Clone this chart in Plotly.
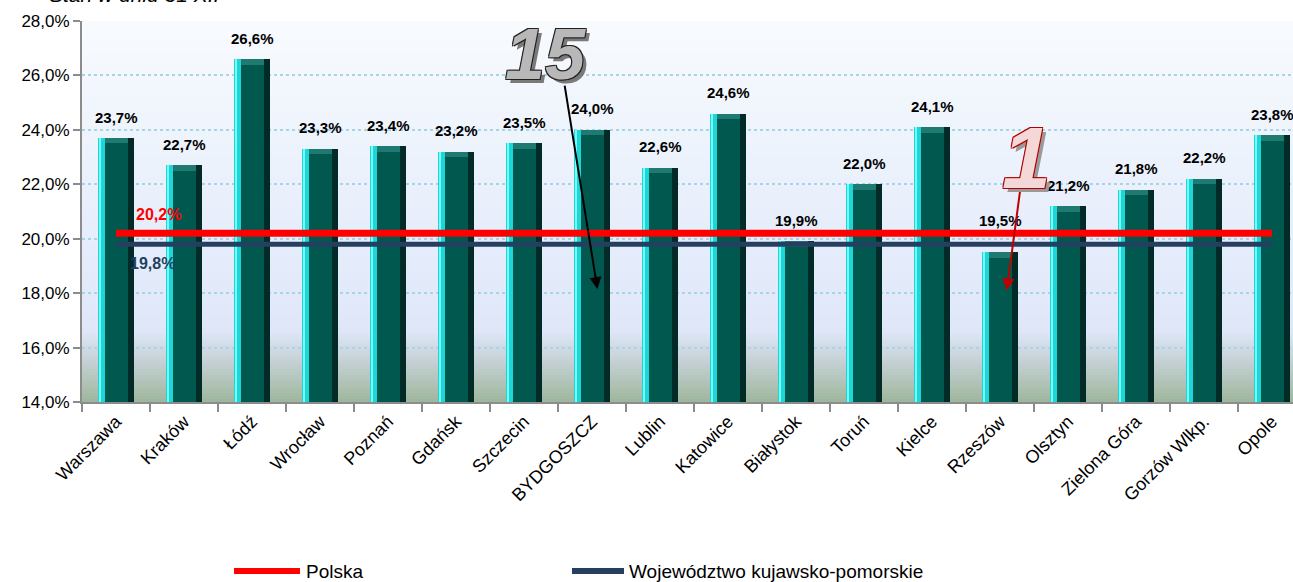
import plotly.graph_objects as go

# ---------------- data ----------------
cities = ["Warszawa", "Kraków", "Łódź", "Wrocław", "Poznań", "Gdańsk", "Szczecin",
          "BYDGOSZCZ", "Lublin", "Katowice", "Białystok", "Toruń", "Kielce",
          "Rzeszów", "Olsztyn", "Zielona Góra", "Gorzów Wlkp.", "Opole"]
values = [23.7, 22.7, 26.6, 23.3, 23.4, 23.2, 23.5, 24.0, 22.6, 24.6,
          19.9, 22.0, 24.1, 19.5, 21.2, 21.8, 22.2, 23.8]
polska = 20.2
kujpom = 19.8
series_names = ["Polska", "Województwo kujawsko-pomorskie"]
title_text = "Stan w dniu 31 XII"
y_ticks = [14, 16, 18, 20, 22, 24, 26, 28]
y_ticktext = [("%.1f%%" % t).replace(".", ",") for t in y_ticks]

# ---------------- style ----------------
FONT = "Liberation Sans, Arial, sans-serif"
W, H = 1293, 582
ML, MT, MB = 82, 21, 180
PLOT_BOTTOM = H - MB
PLOT_H = PLOT_BOTTOM - MT
PLOT_W = W - ML
CAT_PX = 68.0
x_end = -0.5 + PLOT_W / CAT_PX

def py2paper(py):
    return (PLOT_BOTTOM - py) / PLOT_H

def px2paper(px):
    return (px - ML) / PLOT_W

fig = go.Figure()

heights = [v - 14 for v in values]
BW = 0.54
# bar body
fig.add_trace(go.Bar(x=cities, y=heights, base=14, width=BW, offset=-BW / 2,
                     marker=dict(color="#00584F", line=dict(width=0)), showlegend=False,
                     hoverinfo="skip"))
# top bevel
fig.add_trace(go.Bar(x=cities, y=[0.2] * len(values), base=[v - 0.2 for v in values],
                     width=BW, offset=-BW / 2,
                     marker=dict(color="#1F7A72", line=dict(width=0)), showlegend=False,
                     hoverinfo="skip"))
# left cyan edge
fig.add_trace(go.Bar(x=cities, y=heights, base=14, width=0.11, offset=-BW / 2,
                     marker=dict(color="#1ED6D6", line=dict(width=0)), showlegend=False,
                     hoverinfo="skip"))
fig.add_trace(go.Bar(x=cities, y=heights, base=14, width=0.035, offset=-BW / 2 + 0.02,
                     marker=dict(color="#7AFBFB", line=dict(width=0)), showlegend=False,
                     hoverinfo="skip"))
# right dark edge
fig.add_trace(go.Bar(x=cities, y=heights, base=14, width=0.095, offset=BW / 2 - 0.095,
                     marker=dict(color="#022B27", line=dict(width=0)), showlegend=False,
                     hoverinfo="skip"))

# reference lines
fig.add_trace(go.Scatter(x=cities, y=[polska] * len(cities), mode="lines", name=series_names[0],
                         line=dict(color="#FF0000", width=7), showlegend=False, hoverinfo="skip"))
fig.add_trace(go.Scatter(x=cities, y=[kujpom] * len(cities), mode="lines", name=series_names[1],
                         line=dict(color="#243F60", width=5), showlegend=False, hoverinfo="skip"))

# background gradient (style only)
stops = [(21, (248, 251, 254)), (150, (237, 243, 252)), (300, (225, 233, 250)),
         (332, (222, 230, 247)), (362, (196, 208, 212)), (402, (158, 182, 156))]
shapes = []
step = 3
py = 21
while py < 402:
    py2 = min(py + step, 402)
    mid = (py + py2) / 2
    for i in range(len(stops) - 1):
        a, ca = stops[i]
        b, cb = stops[i + 1]
        if a <= mid <= b:
            t = (mid - a) / (b - a)
            c = tuple(int(round(ca[k] + (cb[k] - ca[k]) * t)) for k in range(3))
            break
    shapes.append(dict(type="rect", xref="paper", yref="paper", x0=0, x1=1,
                       y0=py2paper(py2), y1=py2paper(py), layer="below",
                       fillcolor="rgb(%d,%d,%d)" % c, line=dict(width=0)))
    py = py2

# manual legend
LEG_Y = py2paper(571)
shapes.append(dict(type="line", xref="paper", yref="paper", x0=px2paper(234), x1=px2paper(300),
                   y0=LEG_Y, y1=LEG_Y, line=dict(color="#FF0000", width=6)))
shapes.append(dict(type="line", xref="paper", yref="paper", x0=px2paper(572), x1=px2paper(624),
                   y0=LEG_Y, y1=LEG_Y, line=dict(color="#243F60", width=6)))

annotations = []
annotations.append(dict(xref="paper", yref="paper", x=px2paper(304), y=LEG_Y, xanchor="left",
                        yanchor="middle", text=series_names[0], showarrow=False,
                        font=dict(family=FONT, size=19, color="#000000")))
annotations.append(dict(xref="paper", yref="paper", x=px2paper(627), y=LEG_Y, xanchor="left",
                        yanchor="middle", text=series_names[1], showarrow=False,
                        font=dict(family=FONT, size=19, color="#000000")))

# data labels
label_shift = [21] * len(values)
label_shift[cities.index("Rzeszów")] = 32
for c, v, s in zip(cities, values, label_shift):
    annotations.append(dict(x=c, y=v, yshift=s, text=("%.1f%%" % v).replace(".", ","),
                            showarrow=False, xanchor="center", yanchor="middle",
                            font=dict(family=FONT, size=15, color="#000000", weight="bold")))

# reference-line labels
annotations.append(dict(x=0.62, y=polska, yshift=19, text=("%.1f%%" % polska).replace(".", ","),
                        showarrow=False, xanchor="center", yanchor="middle",
                        font=dict(family=FONT, size=16, color="#FF0000", weight="bold")))
annotations.append(dict(x=0.53, y=kujpom, yshift=-19, text=("%.1f%%" % kujpom).replace(".", ","),
                        showarrow=False, xanchor="center", yanchor="middle",
                        font=dict(family=FONT, size=16, color="#243F60", weight="bold")))

# partially clipped title
annotations.append(dict(xref="paper", yref="paper", x=px2paper(47), y=py2paper(8), xanchor="left",
                        yanchor="bottom", text=title_text, showarrow=False,
                        font=dict(family=FONT, size=21, color="#000000", style="italic")))

# decorative rank markers with arrows
annotations.append(dict(x=7.08, y=18.15, ax=-33, ay=-205, text="", showarrow=True,
                        arrowhead=2, arrowsize=1.2, arrowwidth=2, arrowcolor="#000000"))
annotations.append(dict(x=13.1, y=18.1, ax=14, ay=-105, text="", showarrow=True,
                        arrowhead=2, arrowsize=1.2, arrowwidth=2, arrowcolor="#C00000"))
annotations.append(dict(xref="paper", yref="paper", x=px2paper(545), y=py2paper(54),
                        xanchor="center", yanchor="middle",
                        text="<b><i>15</i></b>", showarrow=False,
                        font=dict(family=FONT, size=72, color="#B8B8B8",
                                  shadow="-1px -1px 0 #222, 1px -1px 0 #222, -1px 1px 0 #222, 1px 1px 0 #222, 4px 4px 0 #7A7A7A")))
annotations.append(dict(xref="paper", yref="paper", x=px2paper(1026), y=py2paper(157),
                        xanchor="center", yanchor="middle",
                        text="<b><i>1</i></b>", showarrow=False,
                        font=dict(family=FONT, size=88, color="#F4D8D8",
                                  shadow="-1px -1px 0 #B00000, 1px -1px 0 #B00000, -1px 1px 0 #B00000, 1px 1px 0 #B00000, 4px 4px 0 #9A9A9A")))

fig.update_layout(
    width=W, height=H,
    margin=dict(l=ML, r=0, t=MT, b=MB, pad=0),
    paper_bgcolor="#FFFFFF", plot_bgcolor="rgba(0,0,0,0)",
    barmode="overlay", bargap=0,
    font=dict(family=FONT, size=17, color="#000000"),
    shapes=shapes, annotations=annotations,
    showlegend=False,
    xaxis=dict(type="category", range=[-0.5, x_end], tickangle=-45, tickson="boundaries",
               ticks="outside", ticklen=8, tickwidth=2, tickcolor="#8C8C8C",
               showline=True, linecolor="#8C8C8C", linewidth=2, showgrid=False,
               tickfont=dict(family=FONT, size=18, color="#000000"), fixedrange=True),
    yaxis=dict(range=[14, 28], tickvals=y_ticks, ticktext=y_ticktext,
               ticks="outside", ticklen=7, tickwidth=2, tickcolor="#8C8C8C",
               showline=True, linecolor="#8C8C8C", linewidth=2,
               showgrid=True, gridcolor="#A6D6E6", gridwidth=2, griddash="dot",
               zeroline=False, tickfont=dict(family=FONT, size=17, color="#000000"),
               fixedrange=True),
)

fig.write_html("out.html", config={"displayModeBar": False},
               post_script="document.body.style.margin='0';document.body.style.padding='0';")
